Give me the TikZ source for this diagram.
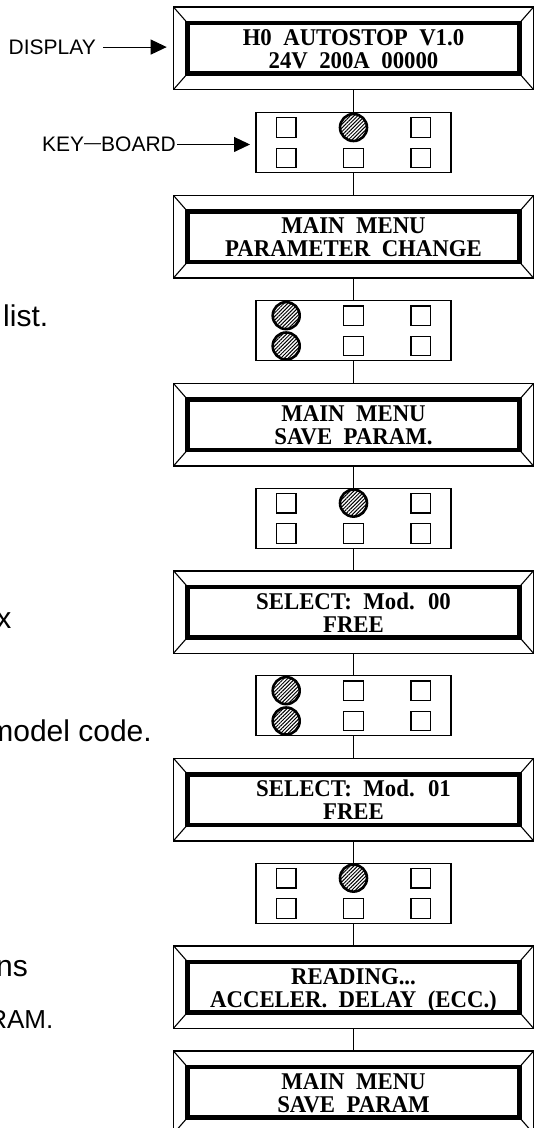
\documentclass[tikz,border=0pt]{standalone}
\usepackage{fontspec}
\setsansfont{Liberation Sans}
\newfontfamily\lcdfont[FakeStretch=0.95,WordSpace=2]{Liberation Serif}
\usetikzlibrary{arrows.meta,patterns.meta}

\newcommand\lcdscreen[4]{%
  \node[lcdout] (#1) at (353.5,#2) {};
  \node[lcdin] (#1i) at (353.5,#2) {};
  \draw[bevel] (#1.north west) -- (#1i.north west)
               (#1.north east) -- (#1i.north east)
               (#1.south west) -- (#1i.south west)
               (#1.south east) -- (#1i.south east);
  \node[lcdtxt] (#1a) at (353.5,#2-3) {#3};
  \node[lcdtxt] (#1b) at (353.5,#2+20) {#4};
}
\newcommand\kbpad[8]{%
  \node[kbd] (#1) at (353.5,#2) {};
  \node[#3] (#1a) at (286.2,#2-15.2) {};
  \node[#4] (#1b) at (353.5,#2-15.2) {};
  \node[#5] (#1c) at (420.8,#2-15.2) {};
  \node[#6] (#1d) at (286.2,#2+15.2) {};
  \node[#7] (#1e) at (353.5,#2+15.2) {};
  \node[#8] (#1f) at (420.8,#2+15.2) {};
}

\begin{document}
\begin{tikzpicture}[x=1pt,y=-1pt,
  lcdout/.style={draw, line width=1.5pt, minimum width=360pt, minimum height=82.5pt, inner sep=0pt, outer sep=0pt},
  lcdin/.style={draw, line width=4.5pt, minimum width=332pt, minimum height=50.5pt, inner sep=0pt, outer sep=0pt},
  bevel/.style={line width=1.1pt},
  lcdtxt/.style={font=\lcdfont\bfseries\fontsize{24}{25}\selectfont, inner sep=0pt, anchor=base},
  kbd/.style={draw, line width=1.2pt, minimum width=195pt, minimum height=60pt, inner sep=0pt, outer sep=0pt},
  key/.style={draw, line width=1.3pt, minimum size=19.5pt, inner sep=0pt},
  presskey/.style={circle, draw, line width=2.6pt, minimum size=27pt, inner sep=0pt,
                   pattern={Lines[angle=45,distance=2.6pt,line width=1pt]}},
  wire/.style={line width=1.2pt},
  lab/.style={font=\sffamily\fontsize{21}{25}\selectfont, inner sep=0pt, anchor=base west},
  arr/.style={line width=1pt, -{Triangle[length=16pt,width=15pt]}},
  frag/.style={font=\sffamily\fontsize{30}{34}\selectfont, inner sep=0pt}
]
\fill[white] (0,0) rectangle (534,1128);
\useasboundingbox (0,0) rectangle (534,1128);

% displays
\lcdscreen{d1}{48.3}{H0 AUTOSTOP V1.0}{24V 200A 00000}
\lcdscreen{d2}{236.7}{MAIN MENU}{PARAMETER CHANGE}
\lcdscreen{d3}{424.7}{MAIN MENU}{SAVE PARAM.}
\lcdscreen{d4}{612}{SELECT: Mod. 00}{FREE}
\lcdscreen{d5}{799.5}{SELECT: Mod. 01}{FREE}
\lcdscreen{d6}{987}{READING...}{ACCELER. DELAY (ECC.)}
\lcdscreen{d7}{1092.3}{MAIN MENU}{SAVE PARAM}

% keyboards
\kbpad{k1}{142.7}{key}{presskey}{key}{key}{key}{key}
\kbpad{k2}{330.8}{presskey}{key}{key}{presskey}{key}{key}
\kbpad{k3}{518.3}{key}{presskey}{key}{key}{key}{key}
\kbpad{k4}{705.8}{presskey}{key}{key}{presskey}{key}{key}
\kbpad{k5}{893.3}{key}{presskey}{key}{key}{key}{key}

% connectors
\draw[wire] (d1.south) -- (k1.north);
\draw[wire] (k1.south) -- (d2.north);
\draw[wire] (d2.south) -- (k2.north);
\draw[wire] (k2.south) -- (d3.north);
\draw[wire] (d3.south) -- (k3.north);
\draw[wire] (k3.south) -- (d4.north);
\draw[wire] (d4.south) -- (k4.north);
\draw[wire] (k4.south) -- (d5.north);
\draw[wire] (d5.south) -- (k5.north);
\draw[wire] (k5.south) -- (d6.north);
\draw[wire] (d6.south) -- (d7.north);

% labels with arrows
\node[lab] (lbl1) at (8.5,54.3) {DISPLAY};
\node[lab] (lbl2) at (42,151.7) {KEY\raisebox{3pt}{\fontsize{17}{17}\selectfont —}BOARD};
\draw[arr, shorten <=7pt, shorten >=6.8pt] (lbl1.east) -- (lbl1.east -| d1.west);
\draw[arr, shorten <=1pt, shorten >=6pt] (lbl2.east) -- (lbl2.east -| k1.west);

% text fragments at the left edge
\node[frag, anchor=base west] (t1) at (3,326.7) {list.};
\node[frag, anchor=base east] (t2) at (11.5,628) {x};
\node[frag, anchor=base east] (t3) at (152,741.7) {model code.};
\node[frag, anchor=base east] (t4) at (28,976.7) {ns};
\node[frag, anchor=base east, font=\sffamily\fontsize{26}{30}\selectfont] (t5) at (53.5,1028.3) {RAM.};
\end{tikzpicture}
\end{document}
